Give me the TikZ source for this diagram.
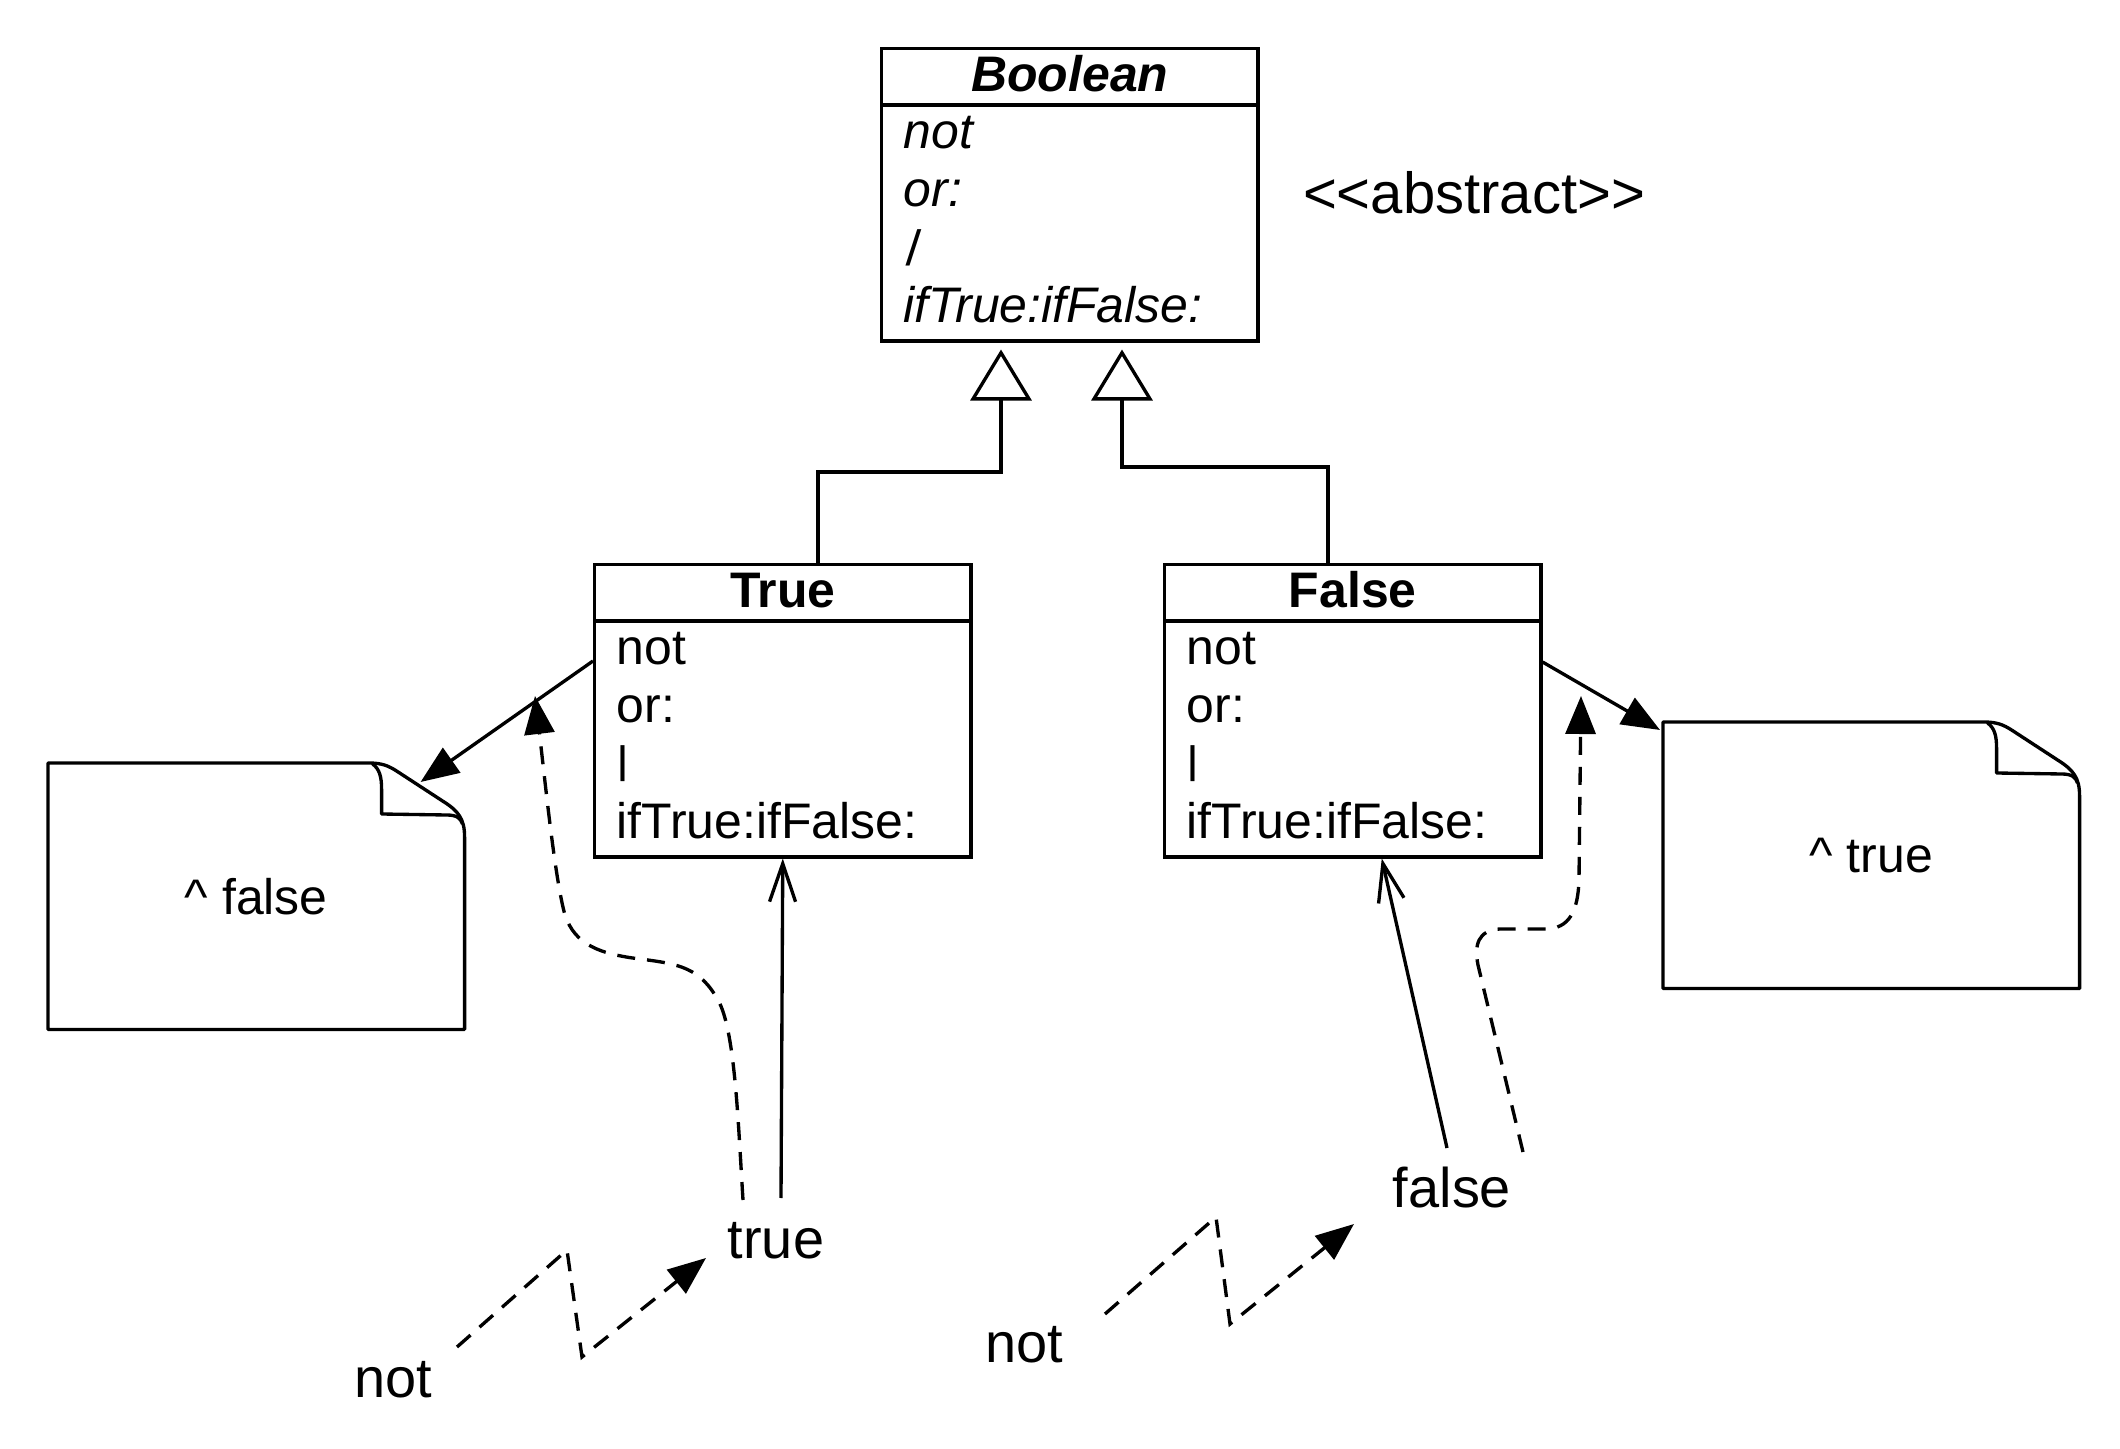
\documentclass[tikz,border=0pt]{standalone}
\usepackage{fontspec}
\setmainfont{Liberation Sans}
\newfontfamily\slantfont[FakeSlant=0.25]{Liberation Sans}
\usetikzlibrary{arrows.meta,calc}

% the "|" selector, set from the baseline up to cap height
\newcommand\barop{\raisebox{0.16em}{\scalebox{1}[0.77]{|}}}
\newcommand\slbarop{{\slantfont\barop}}

% dog-eared note outline, drawn around an (invisible) rectangular node
\newcommand\notefold[1]{%
  \draw[noteline] (#1.south west) -- (#1.north west) -- ($(#1.north east)+(-96,0)$)
    .. controls ($(#1.north east)+(-82,0)$) and ($(#1.north east)+(-76,3)$) .. ($(#1.north east)+(-68,8)$)
    -- ($(#1.north east)+(-22,38)$)
    .. controls ($(#1.north east)+(-6,48)$) and ($(#1.north east)+(0,56)$) .. ($(#1.north east)+(0,74)$)
    -- (#1.south east) -- cycle;
  \draw[noteline] ($(#1.north east)+(-92,1)$)
    .. controls ($(#1.north east)+(-85,6)$) and ($(#1.north east)+(-83,14)$) .. ($(#1.north east)+(-83,26)$)
    -- ($(#1.north east)+(-83,51)$) -- ($(#1.north east)+(-18,52)$)
    .. controls ($(#1.north east)+(-8,52)$) and ($(#1.north east)+(-4,55)$) .. ($(#1.north east)+(-2,61)$);
}

\begin{document}
\begin{tikzpicture}[x=0.01cm, y=-0.01cm, line width=0.95pt,
  classbox/.style={draw, rectangle, inner sep=0pt, minimum width=3.76cm,
    minimum height=2.92cm, anchor=north west},
  headtext/.style={anchor=base, inner sep=0pt,
    font=\fontsize{14.2pt}{16.5pt}\selectfont\bfseries},
  rowtext/.style={anchor=base west, inner sep=0pt,
    font=\fontsize{14.2pt}{16.5pt}\selectfont},
  notebox/.style={rectangle, inner sep=0pt, minimum width=4.13cm,
    minimum height=2.63cm, anchor=north west,
    font=\fontsize{14.2pt}{16.5pt}\selectfont},
  noteline/.style={line join=round},
  msgtext/.style={anchor=base, inner sep=0pt,
    font=\fontsize{15.9pt}{19pt}\selectfont},
  stereo/.style={anchor=base, inner sep=0pt,
    font=\fontsize{16.5pt}{19pt}\selectfont},
  generalize/.style={-{Triangle[open, length=0.51cm, width=0.61cm]},
    shorten >=0.07cm},
  ret/.style={-{Triangle[length=0.38cm, width=0.30cm]}},
  send/.style={-{Straight Barb[length=0.38cm, width=0.26cm]}},
  flow/.style={dash pattern=on 0.18cm off 0.12cm,
    -{Triangle[length=0.38cm, width=0.30cm]}},
]
\path[fill=white] (0,0) rectangle (2120,1449);
\useasboundingbox (0,0) rectangle (2120,1449);

% ---- abstract class Boolean
\node[classbox] (bool) at (880,47) {};
\draw ($(bool.north west)+(0,58)$) -- ($(bool.north east)+(0,58)$);
\node[headtext] (boolname) at ($(bool.north)+(0,45)$) {\itshape Boolean};
\foreach \t [count=\i] in {not, or:, \slbarop, ifTrue:ifFalse:}
  \node[rowtext] (bool-r\i) at ($(bool.north west)+(22,44+58*\i)$) {\itshape\t};
\node[stereo] (abs) at (1474,214) {<{}<abstract>{}>};

% ---- concrete class True
\node[classbox] (truebox) at (593,563) {};
\draw ($(truebox.north west)+(0,58)$) -- ($(truebox.north east)+(0,58)$);
\node[headtext] (truename) at ($(truebox.north)+(0,45)$) {True};
\foreach \t [count=\i] in {not, or:, \barop, ifTrue:ifFalse:}
  \node[rowtext] (true-r\i) at ($(truebox.north west)+(22,44+58*\i)$) {\t};

% ---- concrete class False
\node[classbox] (falsebox) at (1163,563) {};
\draw ($(falsebox.north west)+(0,58)$) -- ($(falsebox.north east)+(0,58)$);
\node[headtext] (falsename) at ($(falsebox.north)+(0,45)$) {False};
\foreach \t [count=\i] in {not, or:, \barop, ifTrue:ifFalse:}
  \node[rowtext] (false-r\i) at ($(falsebox.north west)+(22,44+58*\i)$) {\t};

% ---- inheritance
\draw[generalize] ($(truebox.north west)+(225,0)$) -- ++(0,-91)
  -| ($(bool.south west)+(121,0)$);
\draw[generalize] ($(falsebox.north west)+(165,0)$) -- ++(0,-96)
  -| ($(bool.south west)+(242,0)$);

% ---- method notes
\node[notebox] (lnote) at (48,763) {\textasciicircum{} false};
\notefold{lnote}
\node[notebox] (rnote) at (1663,722) {\textasciicircum{} true};
\notefold{rnote}
\draw[ret] ($(truebox.north west)+(0,98)$) -- ($(lnote.north east)+(-44,19)$);
\draw[ret] ($(falsebox.north east)+(0,99)$) -- ($(rnote.north west)+(-3,8)$);

% ---- message sends
\node[msgtext] (tlabel) at (776,1258) {true};
\node[msgtext] (flabel) at (1452,1207) {false};
\node[msgtext] (notleft) at (393,1397) {not};
\node[msgtext] (notright) at (1024,1362) {not};

\coordinate (tsend) at (781,1198);
\coordinate (fsend) at (1447,1148);
\draw[send] (tsend) -- (truebox.south);
\draw[send] (fsend) -- ($(falsebox.south)+(29,0)$);

% control flow of "true not"
\coordinate (tflow) at (743,1200);
\coordinate (tflowend) at (535,696);
\draw[flow] (tflow) .. controls (738,1120) and (735,1030) .. (718,1000)
  .. controls (700,968) and (680,964) .. (640,959)
  .. controls (600,954) and (575,945) .. (565,915)
  .. controls (555,880) and (545,780) .. (tflowend);
\coordinate (zl1) at (457,1347);
\coordinate (zl2) at (567,1250);
\coordinate (zl3) at (582,1357);
\coordinate (zl4) at (706,1258);
\draw[flow] (zl1) -- (zl2) -- (zl3) -- (zl4);

% control flow of "false not"
\coordinate (fflow) at (1523,1152);
\coordinate (fflowend) at (1581,696);
\draw[flow] (fflow) -- (1478,965)
  .. controls (1474,945) and (1478,930) .. (1500,929) -- (1545,929)
  .. controls (1570,929) and (1578,910) .. (1579,880) -- (fflowend);
\coordinate (zr1) at (1105,1314);
\coordinate (zr2) at (1216,1217);
\coordinate (zr3) at (1230,1324);
\coordinate (zr4) at (1354,1224);
\draw[flow] (zr1) -- (zr2) -- (zr3) -- (zr4);
\end{tikzpicture}
\end{document}
